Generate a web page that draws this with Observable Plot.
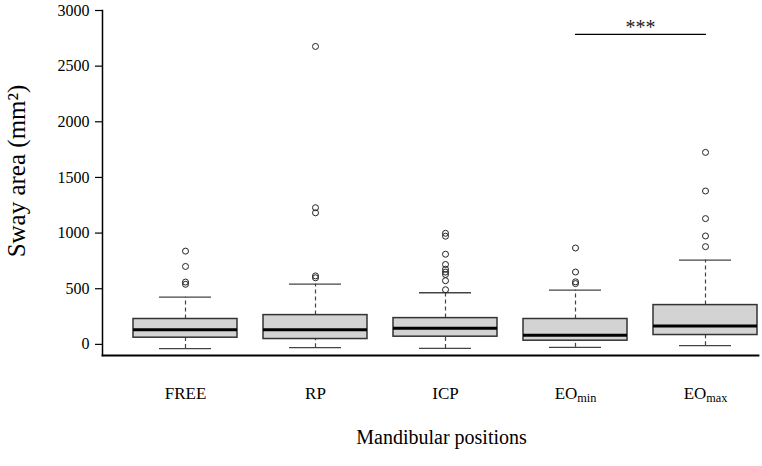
<!DOCTYPE html>
<html>
<head>
<meta charset="utf-8">
<script src="https://cdn.jsdelivr.net/npm/d3@7"></script>
<script src="https://cdn.jsdelivr.net/npm/@observablehq/plot@0.6"></script>
<style>
  html, body { margin: 0; padding: 0; background: #fff; }
  svg { font-family: "Liberation Serif", "Times New Roman", serif; }
</style>
</head>
<body>
<div id="chart"></div>
<script>
// ---- data ----
const categories   = ["FREE", "RP", "ICP", "EOmin", "EOmax"];
const whiskerLow   = [-38, -30, -36, -27, -12];
const q1           = [60, 48, 69, 33, 84];
const median       = [132, 132, 144, 81, 165];
const q3           = [228, 263, 236, 228, 353];
const whiskerHigh  = [424, 542, 464, 488, 757];
const outliersFREE  = [838, 700, 560, 540];
const outliersRP    = [2677, 1228, 1182, 615, 598];
const outliersICP   = [998, 972, 810, 718, 675, 650, 628, 572, 491];
const outliersEOmin = [866, 650, 562, 546];
const outliersEOmax = [1725, 1378, 1130, 974, 878];
const yTicks = [0, 500, 1000, 1500, 2000, 2500, 3000];
const sigPair = ["EOmin", "EOmax"];
const sigLevel = 2785;
const sigLabel = "***";
const yLabel = "Sway area (mm²)";
const xLabel = "Mandibular positions";

// ---- tables built from the arrays ----
const boxes = categories.map((c, i) => ({
  cat: c, lo: whiskerLow[i], q1: q1[i], med: median[i], q3: q3[i], hi: whiskerHigh[i]
}));
const outlierLists = [outliersFREE, outliersRP, outliersICP, outliersEOmin, outliersEOmax];
const outliers = outlierLists.flatMap((vals, i) => vals.map(v => ({cat: categories[i], v})));
const sigLine = sigPair.map(c => ({cat: c, v: sigLevel}));

const font = "Liberation Serif";

const chart = Plot.plot({
  width: 762,
  height: 466,
  marginLeft: 102,
  marginRight: 4,
  marginTop: 10,
  marginBottom: 111,
  style: {fontFamily: font, background: "#fff", color: "#000"},
  x: {domain: categories, range: [120, 770], padding: 0},
  y: {domain: [-100, 3000]},
  marks: [
    // whiskers (dashed)
    Plot.ruleX(boxes, {x: "cat", y1: "q3", y2: "hi", stroke: "#444", strokeWidth: 1.2, strokeDasharray: "4,3"}),
    Plot.ruleX(boxes, {x: "cat", y1: "lo", y2: "q1", stroke: "#444", strokeWidth: 1.2, strokeDasharray: "4,3"}),
    // whisker caps
    Plot.tickY(boxes, {x: "cat", y: "hi", insetLeft: 39, insetRight: 39, stroke: "#444", strokeWidth: 1.3}),
    Plot.tickY(boxes, {x: "cat", y: "lo", insetLeft: 39, insetRight: 39, stroke: "#444", strokeWidth: 1.3}),
    // boxes
    Plot.barY(boxes, {x: "cat", y1: "q1", y2: "q3", insetLeft: 13, insetRight: 13, fill: "#d3d3d3", stroke: "#333", strokeWidth: 1.5}),
    // medians
    Plot.tickY(boxes, {x: "cat", y: "med", insetLeft: 13, insetRight: 13, stroke: "#000", strokeWidth: 3}),
    // outliers
    Plot.dot(outliers, {x: "cat", y: "v", r: 3, stroke: "#222", strokeWidth: 1, fill: "none"}),
    // significance bar
    Plot.line(sigLine, {x: "cat", y: "v", stroke: "#000", strokeWidth: 1.3}),
    Plot.text([sigLabel], {x: () => sigPair[1], y: () => sigLevel, dx: -65, lineAnchor: "bottom", fontSize: 20, fill: "#222"}),
    // axes
    Plot.frame({anchor: "left", stroke: "#000", strokeWidth: 1.5}),
    Plot.frame({anchor: "bottom", stroke: "#000", strokeWidth: 1.8}),
    Plot.axisY({ticks: yTicks, tickFormat: d3.format("d"), tickSize: 7, tickPadding: 6, fontSize: 16, label: null, stroke: "#000", strokeWidth: 1.2}),
    Plot.axisX({tickSize: 0, tickPadding: 31, fontSize: 17, label: null}),
    Plot.text([yLabel], {frameAnchor: "left", textAnchor: "middle", dx: -86, dy: -12, rotate: -90, lineAnchor: "middle", fontSize: 25}),
    Plot.text([xLabel], {frameAnchor: "bottom", dx: 11, dy: 88, lineAnchor: "bottom", fontSize: 20})
  ]
});

// subscripts for EOmin / EOmax tick labels
chart.querySelectorAll('g[aria-label="x-axis tick label"] text').forEach(t => {
  const s = t.textContent;
  if (s.startsWith("EO") && s.length > 2) {
    const sub = s.slice(2);
    t.textContent = "EO";
    const ts = document.createElementNS("http://www.w3.org/2000/svg", "tspan");
    ts.setAttribute("dy", "0.3em");
    ts.setAttribute("font-size", "0.72em");
    ts.textContent = sub;
    t.appendChild(ts);
  }
});

document.getElementById("chart").appendChild(chart);
</script>
</body>
</html>
